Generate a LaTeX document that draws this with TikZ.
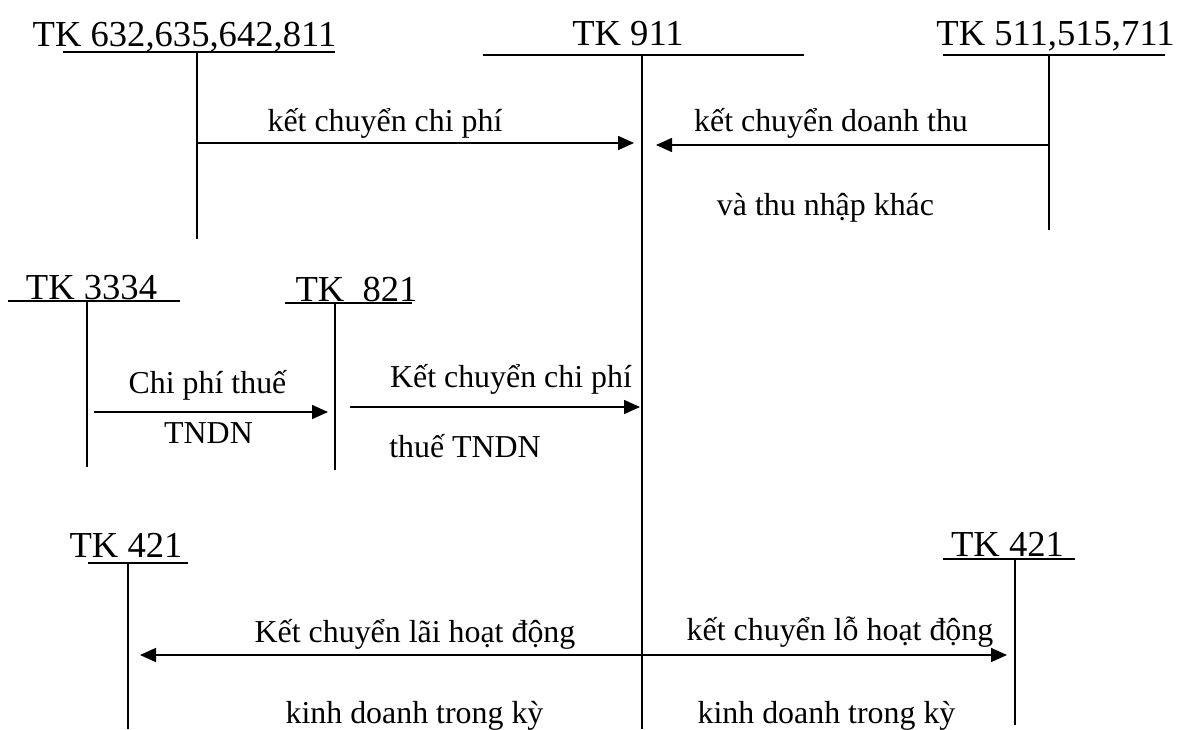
\documentclass[tikz,border=0pt]{standalone}
\usepackage{fontspec}
\setmainfont{Liberation Serif}
\usetikzlibrary{arrows.meta}
\begin{document}
\begin{tikzpicture}[x=1pt,y=-1pt,
  acct/.style={inner sep=0pt,anchor=base,font=\fontsize{36.6}{40}\selectfont},
  lbl/.style={inner sep=0pt,anchor=base,font=\fontsize{31.9}{36}\selectfont},
  tline/.style={line width=1.6pt},
  flow/.style={line width=1.6pt,-{Triangle[length=16pt,width=14pt]}}]
\useasboundingbox (0,0) rectangle (1177,729);

% account titles
\node[acct] (h632) at (184.5,46) {TK 632,635,642,811};
\node[acct] (h911) at (628,45) {TK 911};
\node[acct] (h511) at (1055.5,45) {TK 511,515,711};
\node[acct] (h3334) at (91.5,299) {TK 3334};
\node[acct] (h821) at (356.5,301) {TK\ \ 821};
\node[acct] (h421l) at (126,557) {TK 421};
\node[acct] (h421r) at (1007.5,556) {TK 421};

% T-account bars and stems
\coordinate (a632l) at (63,52);   \coordinate (a632r) at (335,52);
\coordinate (a632t) at (197,52);  \coordinate (a632b) at (197,239);
\coordinate (a911l) at (483,55);  \coordinate (a911r) at (804,55);
\coordinate (a911t) at (642,55);  \coordinate (a911b) at (642,729);
\coordinate (a511l) at (943,55);  \coordinate (a511r) at (1165,55);
\coordinate (a511t) at (1049,55); \coordinate (a511b) at (1049,230);
\coordinate (a3334l) at (8,301);  \coordinate (a3334r) at (180,301);
\coordinate (a3334t) at (87,301); \coordinate (a3334b) at (87,467);
\coordinate (a821l) at (285,303); \coordinate (a821r) at (412,303);
\coordinate (a821t) at (335,303); \coordinate (a821b) at (335,470);
\coordinate (a421ll) at (88,563); \coordinate (a421lr) at (188,563);
\coordinate (a421lt) at (128,563);\coordinate (a421lb) at (128,729);
\coordinate (a421rl) at (943,559);\coordinate (a421rr) at (1075,559);
\coordinate (a421rt) at (1015,559);\coordinate (a421rb) at (1015,725);

\foreach \k in {632,911,511,3334,821}{
  \draw[tline] (a\k l) -- (a\k r);
  \draw[tline] (a\k t) -- (a\k b);
}
\draw[tline] (a421ll) -- (a421lr);
\draw[tline] (a421lt) -- (a421lb);
\draw[tline] (a421rl) -- (a421rr);
\draw[tline] (a421rt) -- (a421rb);

% flow endpoints
\coordinate (f1s) at (197,143);  \coordinate (f1e) at (634,143);
\coordinate (f2s) at (1049,145); \coordinate (f2e) at (656,145);
\coordinate (f3s) at (94,412);   \coordinate (f3e) at (328,412);
\coordinate (f4s) at (350,407);  \coordinate (f4e) at (640,407);
\coordinate (f5s) at (642,655);  \coordinate (f5e) at (140,655);
\coordinate (f6e) at (1007,655);

\draw[flow] (f1s) -- (f1e);
\draw[flow] (f2s) -- (f2e);
\draw[flow] (f3s) -- (f3e);
\draw[flow] (f4s) -- (f4e);
\draw[flow] (f5s) -- (f5e);
\draw[flow] (f5s) -- (f6e);

% flow labels
\node[lbl] (t1) at (385,131) {kết chuyển chi phí};
\node[lbl] (t2) at (831,131) {kết chuyển doanh thu};
\node[lbl] (t2b) at (825.5,215) {và thu nhập khác};
\node[lbl] (t3) at (207.5,393) {Chi phí thuế};
\node[lbl] (t3b) at (208.5,443) {TNDN};
\node[lbl] (t4) at (511,387) {Kết chuyển chi phí};
\node[lbl] (t4b) at (465,457) {thuế TNDN};
\node[lbl] (t5) at (415,642) {Kết chuyển lãi hoạt động};
\node[lbl] (t5b) at (414.5,723) {kinh doanh trong kỳ};
\node[lbl] (t6) at (840,640) {kết chuyển lỗ hoạt động};
\node[lbl] (t6b) at (826.5,723) {kinh doanh trong kỳ};
\end{tikzpicture}
\end{document}
